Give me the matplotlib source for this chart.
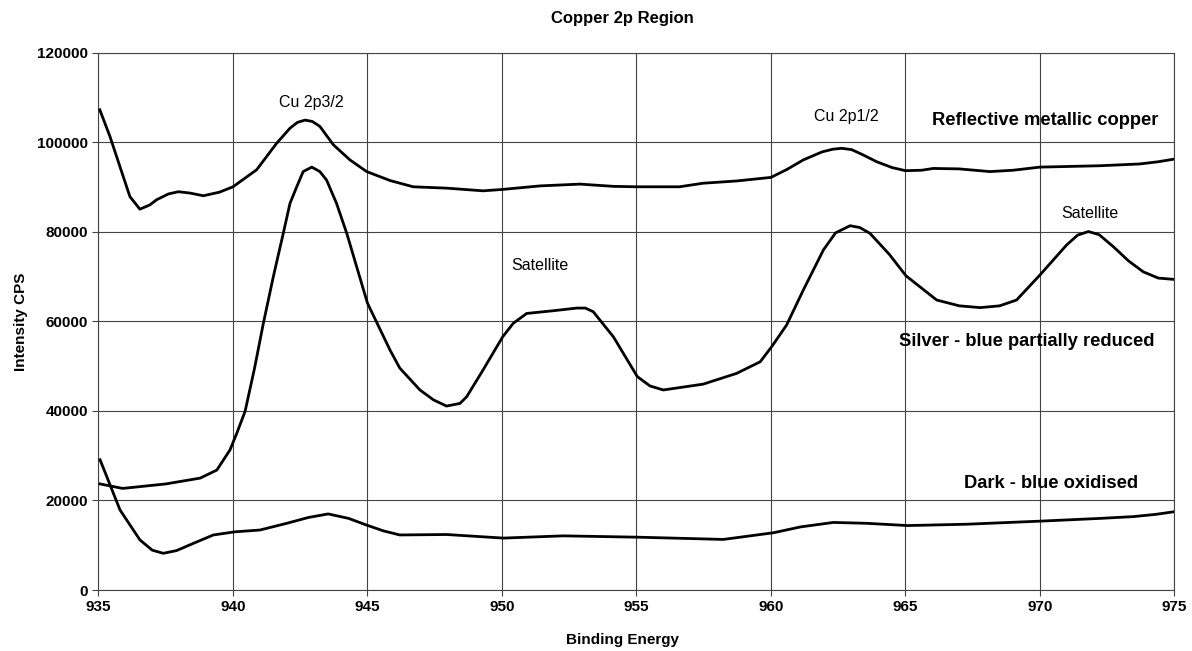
#Copper 2p region XPS spectra

import matplotlib.pyplot as plt
import numpy as np

plt.rcParams['font.family'] = ['Liberation Sans', 'DejaVu Sans']

# reflective metallic copper
x_refl = [935.05, 935.43, 935.92, 936.17, 936.54, 936.91, 937.16, 937.6, 937.97, 938.4,
          938.9, 939.5, 940.0, 940.88, 941.62, 942.12, 942.4, 942.68, 942.95, 943.23,
          943.73, 944.35, 944.97, 945.84, 946.7, 947.94, 949.3, 950.0, 951.41, 952.9,
          954.14, 955.0, 956.6, 957.48, 958.72, 960.0, 960.6, 961.2, 961.9, 962.3,
          962.63, 963.0, 963.4, 963.93, 964.5, 965.0, 965.6, 966.03, 967.0, 968.14,
          969.0, 970.0, 972.2, 973.7, 974.4, 975.0]
y_refl = [107300, 101300, 92400, 87900, 85100, 86050, 87200, 88500, 89000, 88700,
          88100, 88900, 90100, 93900, 99800, 103200, 104500, 105000, 104700, 103600,
          99500, 96100, 93500, 91500, 90100, 89800, 89200, 89500, 90300, 90700,
          90200, 90100, 90100, 90900, 91400, 92200, 94000, 96100, 97900, 98500,
          98700, 98400, 97300, 95700, 94400, 93700, 93800, 94200, 94100, 93500,
          93800, 94500, 94800, 95200, 95700, 96300]

# silver - blue partially reduced
x_silv = [935.06, 935.9, 937.5, 938.78, 939.4, 939.89, 940.14, 940.45, 940.8, 941.13,
          941.5, 941.87, 942.12, 942.37, 942.61, 942.93, 943.23, 943.48, 943.85, 944.23,
          945.0, 945.84, 946.2, 946.95, 947.45, 947.94, 948.44, 948.69, 949.3, 950.03,
          950.42, 950.92, 951.41, 951.9, 952.78, 953.1, 953.39, 954.14, 955.03, 955.5,
          956.0, 957.48, 958.72, 959.6, 960.03, 960.58, 961.2, 961.95, 962.4, 962.94,
          963.3, 963.68, 964.4, 965.02, 966.16, 967.0, 967.78, 968.5, 969.13, 970.0,
          970.99, 971.4, 971.8, 972.2, 972.73, 973.3, 973.84, 974.4, 975.0]
y_silv = [23700, 22700, 23700, 25000, 26800, 31300, 35000, 39900, 49500, 59600,
          70000, 79700, 86400, 90100, 93500, 94500, 93500, 91600, 86400, 79700,
          64100, 53600, 49600, 44700, 42500, 41100, 41700, 43200, 49200, 56600,
          59600, 61800, 62100, 62400, 63000, 63000, 62200, 56600, 47700, 45600,
          44700, 46000, 48400, 51000, 54400, 59200, 67000, 76000, 79800, 81400,
          81000, 79700, 75000, 70200, 64800, 63500, 63100, 63500, 64800, 70400,
          77100, 79300, 80100, 79400, 76700, 73500, 71100, 69700, 69400]

# dark - blue oxidised
x_dark = [935.06, 935.8, 936.54, 937.0, 937.41, 937.9, 938.52, 939.27, 940.07, 941.0,
          942.0, 942.8, 943.54, 944.3, 944.97, 945.6, 946.2, 947.94, 950.05, 952.28,
          955.07, 958.23, 960.1, 961.1, 962.32, 963.56, 965.08, 967.28, 970.06, 972.23,
          973.47, 974.3, 975.0]
y_dark = [29100, 17900, 11200, 8900, 8200, 8800, 10400, 12300, 13000, 13400,
          14900, 16200, 17000, 16000, 14500, 13200, 12300, 12400, 11600, 12100,
          11800, 11300, 12800, 14100, 15100, 14900, 14400, 14700, 15400, 16000,
          16400, 16900, 17500]

fig = plt.figure(figsize=(11.92, 6.51), dpi=100)
ax = fig.add_axes([0.0826, 0.0937, 0.9027, 0.8249])

for xs, ys in [(x_refl, y_refl), (x_silv, y_silv), (x_dark, y_dark)]:
    ax.plot(xs, ys, color='black', lw=2.0, solid_joinstyle='round', zorder=3)

ax.set_xlim(935, 975)
ax.set_ylim(0, 120000)
ax.set_xticks(np.arange(935, 976, 5))
ax.set_yticks(np.arange(0, 120001, 20000))
ax.grid(True, color='#444444', lw=0.8)
for s in ax.spines.values():
    s.set_color('#444444')
    s.set_linewidth(0.8)
ax.tick_params(direction='out', length=4, width=0.8, color='#444444', labelsize=11)
for lbl in ax.get_xticklabels() + ax.get_yticklabels():
    lbl.set_fontweight('bold')

ax.text(942.9, 109000, 'Cu 2p3/2', ha='center', va='center', fontsize=11.5)
ax.text(962.8, 105800, 'Cu 2p1/2', ha='center', va='center', fontsize=11.5)
ax.text(951.4, 72500, 'Satellite', ha='center', va='center', fontsize=11.5)
ax.text(971.85, 84200, 'Satellite', ha='center', va='center', fontsize=11.5)
ax.text(970.2, 105000, 'Reflective metallic copper', ha='center', va='center', fontsize=13.2, fontweight='bold')
ax.text(969.5, 55500, 'Silver - blue partially reduced', ha='center', va='center', fontsize=13.2, fontweight='bold')
ax.text(970.4, 23850, 'Dark - blue oxidised', ha='center', va='center', fontsize=13.2, fontweight='bold')

fig.text(0.522, 0.972, 'Copper 2p Region', ha='center', va='center', fontsize=12, fontweight='bold')
fig.text(0.522, 0.017, 'Binding Energy', ha='center', va='center', fontsize=11, fontweight='bold')
fig.text(0.018, 0.506, 'Intensity CPS', ha='center', va='center', fontsize=11, fontweight='bold', rotation=90)

plt.savefig('out.png', dpi=100)
